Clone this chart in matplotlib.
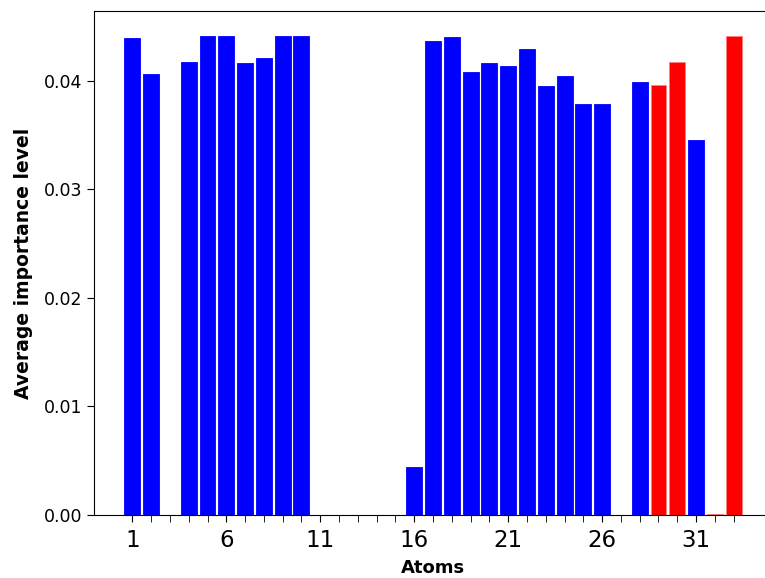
import numpy as np
import matplotlib
matplotlib.use("Agg")
import matplotlib.pyplot as plt

atoms = np.arange(1, 34)
importance = [0.0439, 0.0406, 0.0, 0.0417, 0.0441, 0.0441, 0.0416, 0.0421, 0.0441, 0.0441,
              0.0, 0.0, 0.0, 0.0, 0.0, 0.0044, 0.0436, 0.0440, 0.0408, 0.0416,
              0.0413, 0.0429, 0.0395, 0.0404, 0.0378, 0.0378, 0.0, 0.0399, 0.0396, 0.0417,
              0.0345, 0.0001, 0.0441]
red_atoms = [29, 30, 32, 33]
colors = ['red' if a in red_atoms else 'blue' for a in atoms]
edges = ['#ff8080' if a in red_atoms else 'blue' for a in atoms]

fig = plt.figure(figsize=(7.65, 5.78), dpi=100, facecolor='w')
ax = fig.add_axes([94 / 765, 63 / 578, (772 - 94) / 765, 504 / 578])

ax.bar(atoms, importance, width=0.85, color=colors, edgecolor=edges, linewidth=0.6)

ax.set_xticks(np.arange(1, 34, 5))
ax.set_xticks(atoms, minor=True)
ax.tick_params(axis='x', which='both', labelsize=16.5, length=5, pad=5)
ax.tick_params(axis='y', labelsize=12.5, length=5)
ax.set_yticks([0.0, 0.01, 0.02, 0.03, 0.04])
ax.set_xlim(-1.04, 35.04)
ax.set_ylim(0, 0.0464)
ax.set_xlabel('Atoms', fontsize=13, fontweight='bold', labelpad=5)
ax.set_ylabel('Average importance level', fontsize=13.5, fontweight='bold', labelpad=8)
ax.spines['right'].set_visible(False)

fig.savefig('out.png', dpi=100)
